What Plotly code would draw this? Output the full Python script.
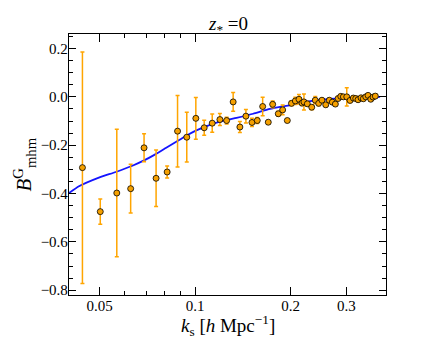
import plotly.graph_objects as go

# measured data points
k_data = [0.0441, 0.0502, 0.0566, 0.0626, 0.0690, 0.0753, 0.0816, 0.0880, 0.0941, 0.1005,
          0.1068, 0.1132, 0.1197, 0.1257, 0.1318, 0.1384, 0.1446, 0.1511, 0.1570, 0.1633,
          0.1701, 0.1756, 0.1829, 0.1888, 0.1953, 0.2013, 0.2070, 0.2126, 0.2173, 0.2204,
          0.2259, 0.2332, 0.2393, 0.2453, 0.2512, 0.2582, 0.2650, 0.2709, 0.2769, 0.2824,
          0.2880, 0.2935, 0.3008, 0.3081, 0.3156, 0.3211, 0.3265, 0.3337, 0.3393, 0.3453,
          0.3511, 0.3581, 0.3641, 0.3702]
b_data = [-0.293, -0.475, -0.398, -0.380, -0.211, -0.337, -0.311, -0.142, -0.167, -0.089,
          -0.128, -0.109, -0.094, -0.098, -0.021, -0.125, -0.080, -0.106, -0.098, -0.040,
          -0.105, -0.031, -0.070, -0.054, -0.098, -0.027, -0.017, -0.010, -0.026, -0.021,
          -0.029, -0.043, -0.014, -0.027, -0.014, -0.033, -0.014, -0.022, -0.030, -0.007,
          0.002, 0.000, 0.000, -0.015, -0.005, -0.007, -0.012, -0.004, -0.008, 0.000,
          0.006, -0.010, -0.001, 0.003]
b_err = [0.479, 0.052, 0.264, 0.101, 0.058, 0.117, 0.025, 0.148, 0.103, 0.086,
         0.031, 0.038, 0.025, 0.014, 0.039, 0.023, 0.028, 0.017, 0.012, 0.038,
         0.005, 0.014, 0.010, 0.020, 0.005, 0.010, 0.015, 0.020, 0.010, 0.033,
         0.010, 0.010, 0.015, 0.010, 0.008, 0.008, 0.008, 0.008, 0.008, 0.008,
         0.008, 0.008, 0.038, 0.008, 0.008, 0.008, 0.008, 0.008, 0.008, 0.008,
         0.008, 0.008, 0.008, 0.008]

# model curve
k_model = [0.0400, 0.0430, 0.0497, 0.0562, 0.0634, 0.0690, 0.0751, 0.0808, 0.0869, 0.0935,
           0.1005, 0.1068, 0.1197, 0.1351, 0.1525, 0.1722, 0.1991, 0.2221, 0.2665, 0.3194,
           0.3832]
b_model = [-0.398, -0.370, -0.334, -0.311, -0.285, -0.263, -0.237, -0.212, -0.187, -0.162,
           -0.140, -0.125, -0.103, -0.087, -0.070, -0.050, -0.034, -0.021, -0.009, -0.003,
           0.000]

x_tickvals = [0.05, 0.1, 0.2, 0.3]
x_ticktext = ["0.05", "0.1", "0.2", "0.3"]
x_minor = [0.04, 0.06, 0.07, 0.08, 0.09, 0.4]
y_tickvals = [0.2, 0.0, -0.2, -0.4, -0.6, -0.8]
y_ticktext = ["0.2", "0.0", "\u22120.2", "\u22120.4", "\u22120.6", "\u22120.8"]

font = "Liberation Serif"
tickfont = dict(family=font, size=15, color="black")

fig = go.Figure()
fig.add_trace(go.Scatter(x=k_model, y=b_model, mode="lines",
                         line=dict(color="#1414ff", width=1.8, shape="spline", smoothing=0.5),
                         showlegend=False, hoverinfo="skip"))
fig.add_trace(go.Scatter(x=k_data, y=b_data, mode="markers",
                         error_y=dict(type="data", array=b_err, color="#ffa500",
                                      thickness=1.5, width=2),
                         marker=dict(color="#f5a000", size=6,
                                     line=dict(color="black", width=0.8)),
                         showlegend=False))

# page body has an 8px default margin; size the figure to fit inside the window
fig.update_layout(
    width=413, height=330,
    margin=dict(l=61, r=35, t=26, b=43, autoexpand=False),
    paper_bgcolor="white", plot_bgcolor="white",
    font=dict(family=font, color="black", size=15),
    annotations=[
        dict(text="<i>z</i><sub>*</sub> =0", xref="paper", yref="paper",
             x=0.5, y=1.0, yshift=9, xanchor="center", yanchor="middle",
             showarrow=False, font=dict(family=font, size=19, color="black")),
        dict(text="<i>k</i><sub>s</sub> [<i>h</i> Mpc<sup>\u22121</sup>]",
             xref="paper", yref="paper", x=0.5, y=0, yshift=-30,
             xanchor="center", yanchor="middle", showarrow=False,
             font=dict(family=font, size=19, color="black")),
        dict(text="<i>B</i><sup>G</sup><sub>mhm</sub>", xref="paper", yref="paper",
             x=0, xshift=-45, y=0.5, xanchor="center", yanchor="middle",
             textangle=-90, showarrow=False,
             font=dict(family=font, size=21, color="black")),
    ],
)
fig.update_xaxes(type="log", range=[-1.39794, -0.39794], automargin=False,
                 tickmode="array", tickvals=x_tickvals, ticktext=x_ticktext,
                 tickfont=tickfont, ticklabelstandoff=-3,
                 ticks="inside", ticklen=8, tickwidth=1.2, tickcolor="black",
                 minor=dict(tickmode="array", tickvals=x_minor, ticks="inside",
                            ticklen=4, tickwidth=1, tickcolor="black", showgrid=False),
                 showline=True, linecolor="black", linewidth=1.3, mirror="ticks",
                 showgrid=False, zeroline=False)
fig.update_yaxes(range=[-0.82, 0.26], automargin=False,
                 tickmode="array", tickvals=y_tickvals, ticktext=y_ticktext,
                 tickfont=tickfont, ticklabelstandoff=-3,
                 ticks="inside", ticklen=7, tickwidth=1.2, tickcolor="black",
                 minor=dict(dtick=0.05, tick0=0, ticks="inside", ticklen=4,
                            tickwidth=1, tickcolor="black", showgrid=False),
                 showline=True, linecolor="black", linewidth=1.3, mirror="ticks",
                 showgrid=False, zeroline=False)

fig.write_html("out.html")
